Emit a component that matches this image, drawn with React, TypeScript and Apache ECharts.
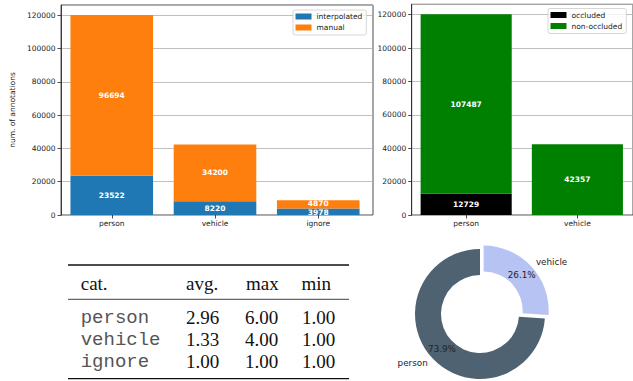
import React, { useEffect, useRef } from 'react';
import * as echarts from 'echarts';

// ---- data ----
const barCats1 = ['person', 'vehicle', 'ignore'];
const interpolated = [23522, 8220, 3978];
const manual = [96694, 34200, 4870];

const barCats2 = ['person', 'vehicle'];
const occluded = [12729, 0];
const nonOccluded = [107487, 42357];

const pieNames = ['person', 'vehicle'];
const pieValues = [120216, 42420];

const tableHeader = ['cat.', 'avg.', 'max', 'min'];
const tableCats = ['person', 'vehicle', 'ignore'];
const tableAvg = [2.96, 1.33, 1.0];
const tableMax = [6.0, 4.0, 1.0];
const tableMin = [1.0, 1.0, 1.0];

const yMax = 126227;
const yInterval = 20000;

const SANS = 'DejaVu Sans';
const TXT = '#222';
const FS = 7.5;

function barLabel() {
  return {
    show: true,
    position: 'inside',
    color: '#fff',
    fontWeight: 'bold',
    fontSize: FS,
    lineHeight: 7.4,
    fontFamily: SANS,
    formatter: (p: any) => (p.value > 0 ? String(p.value) : ''),
  };
}

// visible y axis (labels, ticks, grid lines) on a frame grid
function yAxisVisible(grid: number, margin: number, name?: string) {
  return {
    type: 'value',
    gridIndex: grid,
    min: 0,
    max: yMax,
    interval: yInterval,
    axisLine: { show: true, onZero: false, lineStyle: { color: TXT, width: 0.8 } },
    axisTick: { show: true, length: 3.5, lineStyle: { color: TXT, width: 0.8 } },
    axisLabel: {
      showMaxLabel: false,
      margin,
      fontSize: FS,
      fontFamily: SANS,
      color: TXT,
      formatter: (v: number) => String(v),
    },
    splitLine: { show: true, lineStyle: { color: '#b0b0b0', width: 0.8 } },
    name: name || '',
    nameLocation: 'middle',
    nameGap: 45,
    nameTextStyle: { fontSize: FS, fontFamily: SANS, color: TXT },
  };
}

function yAxisHidden(grid: number) {
  return {
    type: 'value',
    gridIndex: grid,
    min: 0,
    max: yMax,
    interval: yInterval,
    show: false,
    splitLine: { show: false },
  };
}

function xAxisHidden(grid: number) {
  return { type: 'value', gridIndex: grid, min: 0, max: 1, show: false, splitLine: { show: false } };
}

function xAxisCat(grid: number, cats: string[]) {
  return {
    type: 'category',
    gridIndex: grid,
    data: cats,
    axisLine: { show: false },
    axisTick: { show: true, alignWithLabel: true, length: 3.5, lineStyle: { color: TXT, width: 0.8 } },
    axisLabel: { margin: 4, fontSize: FS, fontFamily: SANS, color: TXT },
    splitLine: { show: false },
  };
}

function legendCfg(names: string[], left: number, top: number) {
  return {
    data: names,
    orient: 'vertical',
    left,
    top,
    icon: 'rect',
    itemWidth: 16,
    itemHeight: 6,
    itemGap: 2,
    padding: [2, 4, 3, 2.5],
    borderColor: '#ccc',
    borderWidth: 0.8,
    borderRadius: 2,
    backgroundColor: 'rgba(255,255,255,0.8)',
    textStyle: { fontSize: FS, fontFamily: SANS, color: TXT, lineHeight: 9 },
  };
}

function buildTable() {
  const els: any[] = [];
  const x0 = 68;
  const x1 = 349;
  els.push({ type: 'line', shape: { x1: x0, y1: 265, x2: x1, y2: 265 }, style: { stroke: '#111', lineWidth: 1.3 } });
  els.push({ type: 'line', shape: { x1: x0, y1: 299.3, x2: x1, y2: 299.3 }, style: { stroke: '#111', lineWidth: 0.8 } });
  els.push({ type: 'line', shape: { x1: x0, y1: 378.7, x2: x1, y2: 378.7 }, style: { stroke: '#111', lineWidth: 1.3 } });
  const colX = [80.7, 186, 246, 301.5];
  const numX = [186, 245, 302];
  const serif = 'Liberation Serif';
  const mono = 'Liberation Mono';
  tableHeader.forEach((h, i) => {
    els.push({
      type: 'text',
      x: colX[i],
      y: 283,
      style: { text: h, fontSize: 19, fontFamily: serif, fill: '#111', verticalAlign: 'middle', align: 'left' },
    });
  });
  const rowY = [317.5, 339.5, 361.5];
  tableCats.forEach((c, r) => {
    els.push({
      type: 'text',
      x: colX[0],
      y: rowY[r],
      style: { text: c, fontSize: 19, fontFamily: mono, fill: '#555', verticalAlign: 'middle', align: 'left' },
    });
    [tableAvg[r], tableMax[r], tableMin[r]].forEach((v, j) => {
      els.push({
        type: 'text',
        x: numX[j],
        y: rowY[r],
        style: { text: v.toFixed(2), fontSize: 19, fontFamily: serif, fill: '#111', verticalAlign: 'middle', align: 'left' },
      });
    });
  });
  return els;
}

function barSeries(
  name: string,
  values: number[],
  axis: number,
  stack: string,
  width: number,
  color: string,
  labelShift?: number[],
) {
  return {
    type: 'bar',
    name,
    xAxisIndex: axis,
    yAxisIndex: axis,
    stack,
    barWidth: width,
    data: values.map((v, i) =>
      labelShift && labelShift[i] ? { value: v, label: { offset: [0, labelShift[i]] } } : v,
    ),
    itemStyle: { color },
    label: barLabel(),
  };
}

export default function App() {
  const ref = useRef<HTMLDivElement>(null);
  useEffect(() => {
    if (!ref.current) return;
    const chart = echarts.init(ref.current, null, { renderer: 'svg' });
    const pieColors = ['#4f6272', '#b7c3f3'];
    const pieData = (transparent: boolean) =>
      pieNames.map((n, i) => ({
        name: n,
        value: pieValues[i],
        selected: n === 'vehicle',
        itemStyle: { color: transparent ? 'rgba(0,0,0,0)' : pieColors[i], borderWidth: 0 },
        select: { itemStyle: { color: transparent ? 'rgba(0,0,0,0)' : pieColors[i], borderWidth: 0 } },
      }));
    // left chart: frame 55..373, category unit 103.25 px (x range -0.54..2.54)
    // right chart: frame starts 411.7, unit 113.9 px (x range -0.49..1.49)
    const option: any = {
      animation: false,
      backgroundColor: '#fff',
      textStyle: { fontFamily: SANS },
      grid: [
        { left: 55, top: 5, width: 318, height: 210, show: true, borderColor: TXT, borderWidth: 0.8, backgroundColor: 'transparent' },
        { left: 60.13, top: 5, width: 309.75, height: 210, show: false },
        { left: 411.7, top: 4.3, width: 225.5, height: 210.7, show: true, borderColor: TXT, borderWidth: 0.8, backgroundColor: 'transparent' },
        { left: 410.56, top: 4.3, width: 227.8, height: 210.7, show: false },
      ],
      xAxis: [xAxisHidden(0), xAxisCat(1, barCats1), xAxisHidden(2), xAxisCat(3, barCats2)],
      yAxis: [yAxisVisible(0, 5.5, 'num. of annotations'), yAxisHidden(1), yAxisVisible(2, 5.5), yAxisHidden(3)],
      legend: [legendCfg(['interpolated', 'manual'], 293, 10), legendCfg(['occluded', 'non-occluded'], 548, 8.5)],
      series: [
        barSeries('interpolated', interpolated, 1, 'a', 82.6, '#1f77b4', [0, 0, 0.8]),
        barSeries('manual', manual, 1, 'a', 82.6, '#ff7f0e', [0, 0, -1]),
        barSeries('occluded', occluded, 3, 'b', 91.1, '#000000'),
        barSeries('non-occluded', nonOccluded, 3, 'b', 91.1, '#008000'),
        {
          type: 'pie', center: [480, 314], radius: [39, 65], startAngle: 90, clockwise: false,
          avoidLabelOverlap: false, selectedMode: 'single', selectedOffset: 5, percentPrecision: 1,
          silent: true,
          label: { show: true, position: 'outside', formatter: '{b}', fontSize: 8.8, fontFamily: SANS, color: TXT, distanceToLabelLine: 0 },
          labelLine: { show: false, length: 6.5, length2: 0 },
          emphasis: { disabled: true },
          data: pieData(false),
        },
        {
          type: 'pie', center: [480, 314], radius: [33, 65], startAngle: 90, clockwise: false,
          avoidLabelOverlap: false, selectedMode: 'single', selectedOffset: 5, percentPrecision: 1,
          silent: true, z: 3,
          label: { show: true, position: 'inside', formatter: '{d}%', fontSize: 8.8, fontFamily: SANS, color: TXT },
          labelLine: { show: false },
          emphasis: { disabled: true },
          data: pieData(true),
        },
      ],
      graphic: buildTable(),
    };
    chart.setOption(option);
    return () => chart.dispose();
  }, []);
  return (
    <div
      ref={ref}
      style={{ position: 'fixed', left: 0, top: 0, width: 633, height: 381, background: '#fff' }}
    />
  );
}
